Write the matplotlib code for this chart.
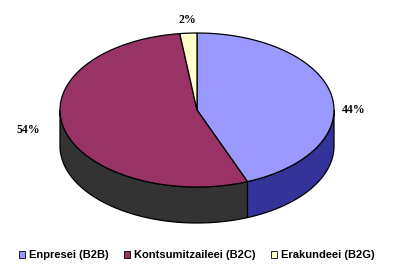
import numpy as np
import matplotlib
matplotlib.use("Agg")
import matplotlib.pyplot as plt
from matplotlib.patches import Polygon, Patch

labels = ["Enpresei (B2B)", "Kontsumitzaileei (B2C)", "Erakundeei (B2G)"]
values = [44, 54, 2]
pct_labels = ["44%", "54%", "2%"]

top_colors = ["#9999FF", "#993366", "#FFFFCC"]
side_colors = ["#333399", "#333333", "#CCCC99"]

W, H = 393, 274
fig = plt.figure(figsize=(W / 100, H / 100), dpi=100)
ax = fig.add_axes([0, 0, 1, 1])
ax.set_xlim(0, W)
ax.set_ylim(H, 0)
ax.axis("off")

cx, cy, rx, ry, depth = 197, 110, 137, 77, 36

def arc(a, b, dy=0, n=120):
    th = np.linspace(a, b, n)
    t = np.radians(th)
    return np.column_stack([cx + rx * np.sin(t), cy - ry * np.cos(t) + dy])

total = float(sum(values))
bounds = np.concatenate([[0], np.cumsum(values)]) / total * 360.0

# side walls (front half: 90..270 deg clockwise from top)
for i in range(len(values)):
    a, b = max(bounds[i], 90), min(bounds[i + 1], 270)
    if b > a:
        top = arc(a, b)
        bot = arc(a, b, depth)[::-1]
        ax.add_patch(Polygon(np.vstack([top, bot]), closed=True,
                             facecolor=side_colors[i], edgecolor="black",
                             linewidth=0.9, zorder=1))

# top faces
for i in range(len(values)):
    a, b = bounds[i], bounds[i + 1]
    pts = np.vstack([[cx, cy], arc(a, b)])
    ax.add_patch(Polygon(pts, closed=True, facecolor=top_colors[i],
                         edgecolor="black", linewidth=0.9, zorder=2))

# percentage labels
label_pos = [(354, 110), (28, 130), (187, 20)]
for (x, y), s in zip(label_pos, pct_labels):
    ax.text(x, y, s, ha="center", va="center", fontsize=8.5,
            family="Liberation Serif", fontweight="bold", zorder=5)

handles = [Patch(facecolor=c, edgecolor="black", linewidth=0.6) for c in top_colors]
fig.legend(handles, labels, loc="center", bbox_to_anchor=(0.5, 1 - 255 / H),
           ncol=3, frameon=False, handlelength=0.6, handleheight=0.6,
           handletextpad=0.3, columnspacing=1.4,
           prop={"family": "Liberation Sans", "size": 8, "weight": "bold"})

fig.savefig("out.png", dpi=100)
